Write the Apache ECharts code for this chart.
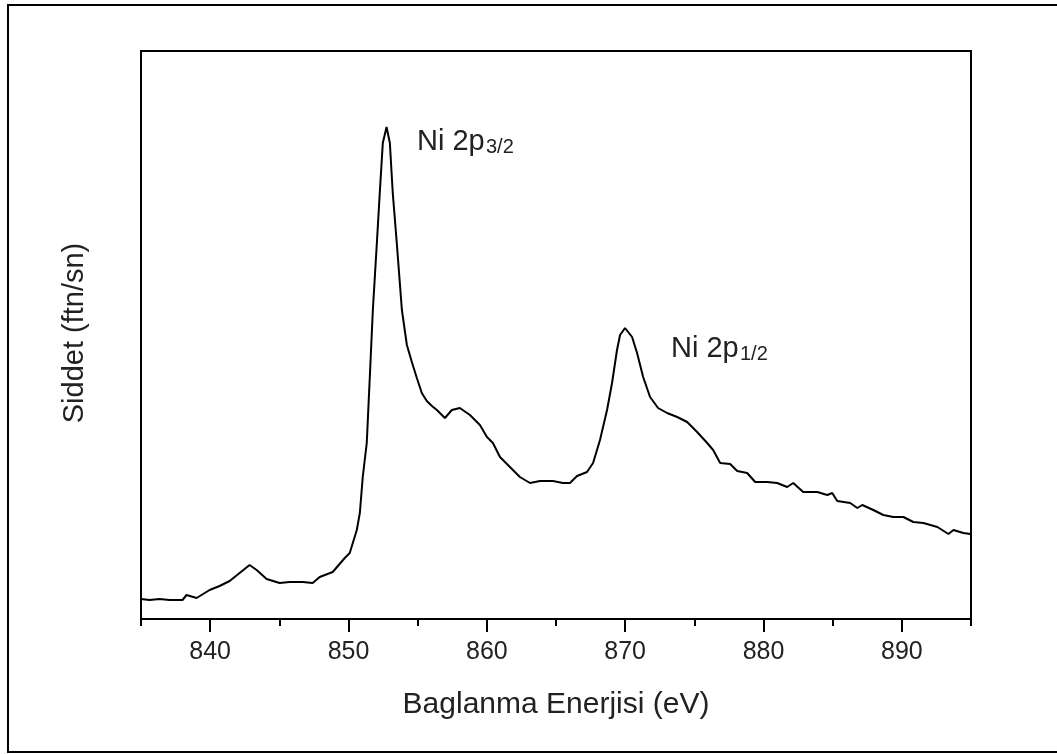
<!DOCTYPE html>
<html>
<head>
<meta charset="utf-8">
<script src="https://cdn.jsdelivr.net/npm/echarts@6/dist/echarts.min.js"></script>
<style>
  html, body { margin: 0; padding: 0; background: #fff; }
  #chart { width: 1057px; height: 754px; }
</style>
</head>
<body>
<div id="chart"></div>
<script>
// Binding energy (eV) and intensity (arbitrary units)
const energy = [835.00, 835.62, 836.34, 837.06, 838.00, 838.29, 839.02, 839.96, 840.68, 841.41,
  842.13, 842.85, 843.36, 844.08, 845.02, 845.75, 846.69, 847.41, 847.92, 848.86,
  849.73, 850.09, 850.60, 850.82, 851.03, 851.32, 851.54, 851.76, 852.05, 852.26,
  852.48, 852.75, 852.99, 853.20, 853.49, 853.86, 854.22, 854.58, 854.94, 855.30,
  855.66, 856.03, 856.39, 856.97, 857.47, 858.05, 858.78, 859.50, 860.01, 860.44,
  860.95, 861.67, 862.39, 863.12, 863.84, 864.78, 865.50, 866.01, 866.52, 867.24,
  867.68, 868.18, 868.69, 869.05, 869.41, 869.63, 869.99, 870.50, 870.86, 871.30,
  871.80, 872.38, 873.03, 873.76, 874.48, 875.20, 875.93, 876.36, 876.87, 877.59,
  878.10, 878.82, 879.40, 880.27, 880.99, 881.71, 882.15, 882.87, 883.89, 884.61,
  884.97, 885.33, 886.27, 886.78, 887.14, 887.94, 888.66, 889.39, 890.11, 890.83,
  891.56, 892.57, 893.37, 893.73, 894.45, 894.96];
const intensity = [20, 19, 20, 19, 19, 24, 21, 29, 33, 38,
  46, 54, 49, 40, 36, 37, 37, 36, 42, 47,
  61, 66, 89, 106, 142, 176, 242, 309, 376, 426,
  476, 492, 476, 426, 376, 309, 274, 257, 241, 226,
  218, 213, 209, 201, 209, 211, 204, 194, 182, 176,
  162, 152, 142, 136, 138, 138, 136, 136, 143, 147,
  156, 179, 209, 236, 269, 284, 291, 282, 266, 242,
  222, 211, 206, 202, 197, 187, 176, 169, 156, 155,
  148, 146, 137, 137, 136, 132, 136, 127, 127, 124,
  126, 118, 116, 111, 114, 109, 104, 102, 102, 97,
  96, 92, 85, 89, 86, 85];
const majorTicks = [840, 850, 860, 870, 880, 890];
const minorTicks = [835, 845, 855, 865, 875, 885, 895];
const xTitle = 'Baglanma Enerjisi (eV)';
const yTitle = 'Siddet (ftn/sn)';
const peakLabels = [
  { main: 'Ni 2p', sub: '3/2' },
  { main: 'Ni 2p', sub: '1/2' }
];

const FONT = '"Liberation Sans", Arial, sans-serif';
const chart = echarts.init(document.getElementById('chart'), null, { renderer: 'canvas' });

const baseX = {
  type: 'value', min: 835, max: 895, position: 'bottom', gridIndex: 0,
  splitLine: { show: false }
};

chart.setOption({
  animation: false,
  backgroundColor: '#fff',
  grid: {
    left: 141, top: 51, right: 86, bottom: 135,
    show: true, borderColor: '#000', borderWidth: 2, backgroundColor: 'transparent'
  },
  xAxis: [
    Object.assign({}, baseX, {
      axisLine: { show: true, lineStyle: { color: '#000', width: 2 } },
      axisTick: { show: true, inside: false, length: 13, lineStyle: { color: '#000', width: 2 }, customValues: majorTicks },
      axisLabel: { show: true, margin: 21, color: '#222', fontSize: 25, fontFamily: FONT, customValues: majorTicks }
    }),
    Object.assign({}, baseX, {
      axisLine: { show: false },
      axisTick: { show: true, inside: false, length: 7, lineStyle: { color: '#000', width: 2 }, customValues: minorTicks },
      axisLabel: { show: false }
    })
  ],
  yAxis: {
    type: 'value', min: 0, max: 568,
    axisLine: { show: true, lineStyle: { color: '#000', width: 2 } },
    axisTick: { show: false },
    axisLabel: { show: false },
    splitLine: { show: false }
  },
  series: [{
    type: 'line',
    xAxisIndex: 0,
    data: energy.map((e, i) => [e, intensity[i]]),
    showSymbol: false,
    smooth: false,
    lineStyle: { color: '#000', width: 2 },
    z: 3
  }],
  graphic: [
    { type: 'rect', silent: true, shape: { x: 8, y: 5, width: 1100, height: 747 },
      style: { fill: 'none', stroke: '#000', lineWidth: 2 } },
    { type: 'text', x: 556, y: 705, silent: true,
      style: { text: xTitle, font: '30px ' + FONT, fill: '#222', align: 'center', verticalAlign: 'middle' } },
    { type: 'text', x: 75, y: 333, rotation: Math.PI / 2, silent: true,
      style: { text: yTitle, font: '29px ' + FONT, fill: '#222', align: 'center', verticalAlign: 'middle' } },
    { type: 'text', x: 417, y: 142, silent: true,
      style: { text: peakLabels[0].main, font: '29px ' + FONT, fill: '#222', align: 'left', verticalAlign: 'middle' } },
    { type: 'text', x: 486, y: 147, silent: true,
      style: { text: peakLabels[0].sub, font: '20px ' + FONT, fill: '#222', align: 'left', verticalAlign: 'middle' } },
    { type: 'text', x: 671, y: 349, silent: true,
      style: { text: peakLabels[1].main, font: '29px ' + FONT, fill: '#222', align: 'left', verticalAlign: 'middle' } },
    { type: 'text', x: 740, y: 354, silent: true,
      style: { text: peakLabels[1].sub, font: '20px ' + FONT, fill: '#222', align: 'left', verticalAlign: 'middle' } }
  ]
});
</script>
</body>
</html>
